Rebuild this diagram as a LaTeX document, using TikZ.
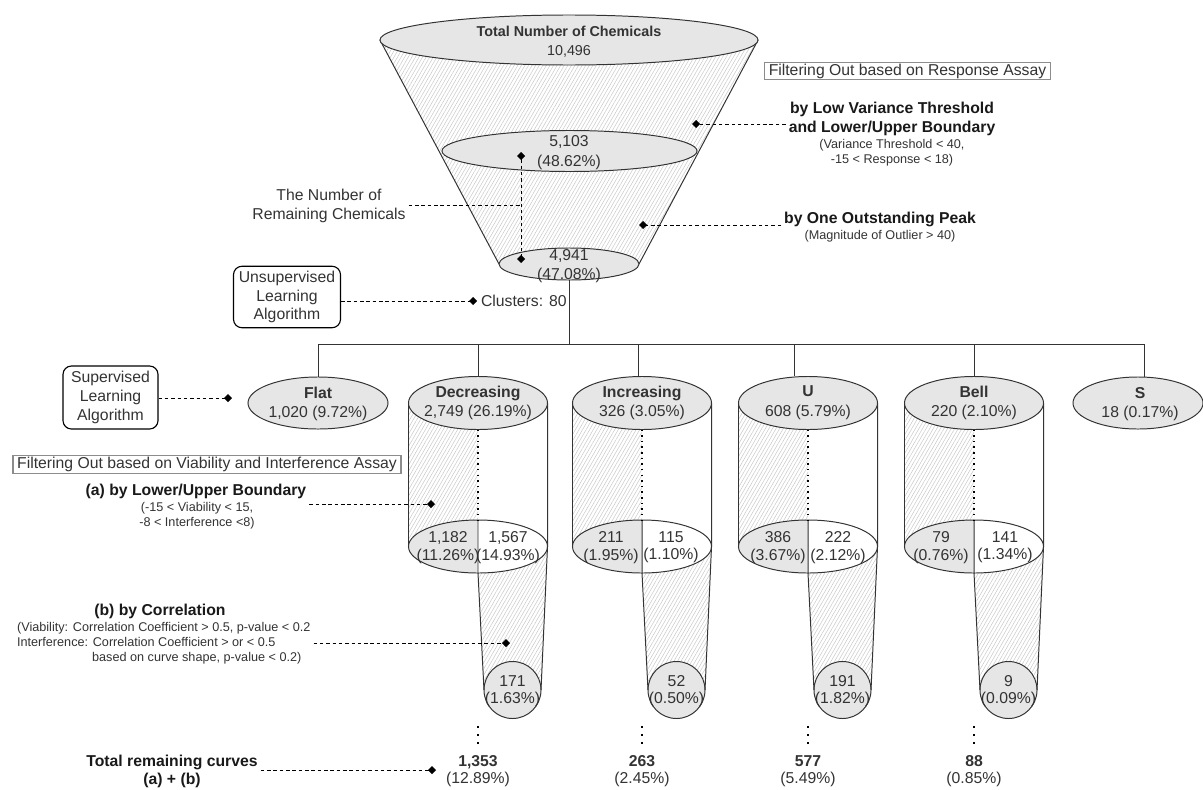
\documentclass[tikz,border=0pt]{standalone}
\usepackage{fontspec}
\setmainfont{Liberation Sans}
\usetikzlibrary{arrows.meta,shapes.geometric,backgrounds,patterns.meta,positioning}
\definecolor{cellgray}{HTML}{E6E6E6}
\definecolor{ink}{HTML}{333333}
\tikzstyle{shapeline}=[draw=ink, line width=0.7pt, inner sep=0pt, outer sep=0pt]
\tikzstyle{grayell}=[shapeline, ellipse, fill=cellgray]
\tikzstyle{cellring}=[shapeline, ellipse, minimum width=3.475cm, minimum height=1.325cm]
\tikzstyle{celltop}=[cellring, fill=cellgray]
\tikzstyle{endcircle}=[shapeline, circle, fill=cellgray, minimum size=1.425cm]
\tikzstyle{numtext}=[align=center, text=ink, inner sep=2pt, font=\fontsize{11.2}{14}\selectfont]
\tikzstyle{tighttext}=[numtext, font=\fontsize{11.2}{12.3}\selectfont]
\tikzstyle{headtext}=[numtext, text=black!90, font=\fontsize{11.2}{14}\selectfont\bfseries]
\tikzstyle{smalltext}=[align=center, text=ink, inner sep=2pt, font=\fontsize{9}{10.7}\selectfont]
\tikzstyle{algobox}=[draw=black, line width=0.8pt, rounded corners=6pt, align=center, text=ink, font=\fontsize{11.2}{13.3}\selectfont]
\tikzstyle{assaybox}=[draw=black!45, line width=0.8pt, inner xsep=3pt, inner ysep=1pt, text=ink, font=\fontsize{11.2}{13}\selectfont]
\tikzstyle{branch}=[draw=ink, line width=0.7pt]
\tikzstyle{dashline}=[draw=black, line width=0.7pt, dash pattern=on 2.5pt off 2pt]
\tikzstyle{annot}=[dashline, -{Diamond[length=2mm,width=2mm]}]
\tikzstyle{celldots}=[draw=black, line width=1.3pt, dash pattern=on 1.1pt off 2.9pt]
\tikzstyle{enddots}=[draw=black, line width=1.4pt, dash pattern=on 1.4pt off 4.3pt]
\tikzstyle{hatch}=[pattern={Lines[angle=60,distance=2.2pt,line width=0.35pt]}, pattern color=black!22]

\begin{document}
\begin{tikzpicture}[x=0.025cm, y=-0.025cm]
    \useasboundingbox (0,0) rectangle (1203,789);

    % funnel
    \node[grayell, minimum width=9.45cm, minimum height=1.25cm] (ftop) at (569,40) {};
    \node[grayell, minimum width=6.375cm, minimum height=1.025cm] (fmid) at (569.5,151) {};
    \node[grayell, minimum width=3.5cm, minimum height=0.8cm] (fbot) at (569,264) {};
    \node[numtext, font=\fontsize{10.2}{13.5}\selectfont] (ftoptext) at (569,42) {\textbf{Total Number of Chemicals}\\10,496};
    \node[numtext] (fmidtext) at (569,152.5) {5,103\\(48.62\%)};
    \node[numtext] (fbottext) at (569,266) {4,941\\(47.08\%)};
    \begin{scope}[on background layer]
        \fill[hatch] (ftop.west) -- (fbot.west) -- (fbot.east) -- (ftop.east) -- cycle;
        \draw[branch] (ftop.west) -- (fbot.west);
        \draw[branch] (ftop.east) -- (fbot.east);
    \end{scope}

    % response assay filters
    \node[assaybox] (respbox) at (907.5,71) {Filtering Out based on Response Assay};
    \node[headtext] (lowvar) at (892,119) {by Low Variance Threshold\\and Lower/Upper Boundary};
    \node[smalltext] (lowvarnote) at (892,152.5) {(Variance Threshold < 40,\\-15 < Response < 18)};
    \node[headtext] (peak) at (880,219) {by One Outstanding Peak};
    \node[smalltext] (peaknote) at (880,236) {(Magnitude of Outlier > 40)};
    \coordinate (dlow) at (692,124);
    \coordinate (dpeak) at (639,225);
    \draw[annot] (lowvar.west |- dlow) -- (dlow);
    \draw[annot] (peak.west |- dpeak) -- (dpeak);

    % remaining chemicals
    \node[numtext] (remain) at (329,206) {The Number of\\Remaining Chemicals};
    \coordinate (dremtop) at (521,152);
    \coordinate (drembot) at (521,263);
    \coordinate (remjoin) at (521,205);
    \draw[annot, {Diamond[length=2mm,width=2mm]}-{Diamond[length=2mm,width=2mm]}] (dremtop) -- (drembot);
    \draw[dashline] (remain.east |- remjoin) -- (remjoin);

    % clustering
    \coordinate (bus) at (569,344);
    \draw[branch] (fbot.south) -- (bus);
    \node[numtext, anchor=west] (clusters) at (478,301) {Clusters: 80};
    \node[algobox, minimum width=2.675cm, minimum height=1.35cm] (unsup) at (287,297) {Unsupervised\\Learning\\Algorithm};
    \coordinate (dclus) at (477,301);
    \draw[annot] (unsup.east |- dclus) -- (dclus);

    % curve classes
    \node[grayell, minimum width=3.5cm, minimum height=1.3cm] (flat) at (318,403) {};
    \node[celltop] (dec) at (478,403) {};
    \node[celltop] (inc) at (642,403) {};
    \node[celltop] (ushape) at (808,403) {};
    \node[celltop] (bell) at (974,403) {};
    \node[grayell, minimum width=3.25cm, minimum height=1.3cm] (sshape) at (1138,403) {};
    \draw[branch] (bus) -| (flat.north);
    \draw[branch] (bus) -| (dec.north);
    \draw[branch] (bus) -| ([xshift=-0.1cm]inc.north);
    \draw[branch] (bus) -| ([xshift=-0.35cm]ushape.north);
    \draw[branch] (bus) -| (bell.north);
    \draw[branch] (bus) -| ([xshift=0.15cm]sshape.north);
    \node[numtext] (flattext) at (318,404) {\textbf{Flat}\\1,020 (9.72\%)};
    \node[numtext] (stext) at (1140,404) {\textbf{S}\\18 (0.17\%)};

    \node[algobox, minimum width=2.375cm, minimum height=1.575cm] (sup) at (110.5,397.5) {Supervised\\Learning\\Algorithm};
    \coordinate (dsup) at (232,398);
    \draw[annot] (sup.east |- dsup) -- (dsup);

    % decreasing
    \node[cellring] (decb) at (478,546.5) {};
    \node[endcircle] (decc) at (512.5,690) {};
    \begin{scope}[on background layer]
        \fill[hatch] (dec.west) rectangle (decb.center);
        \fill[hatch] (decb.center) -- (decc.west) -- (decc.east) -- (decb.east) -- cycle;
        \fill[white] (decb.center) ellipse [x radius=1.7375cm, y radius=0.6625cm];
        \fill[cellgray] (decb.north) arc [start angle=90, end angle=270, x radius=1.7375cm, y radius=0.6625cm] -- cycle;
    \end{scope}
    \draw[branch] (dec.west) -- (decb.west);
    \draw[branch] (dec.east) -- (decb.east) -- (decc.east);
    \draw[branch] (decb.north) -- (decb.south) -- (decc.west);
    \draw[celldots] (dec.south) -- (decb.north);
    \node[numtext] (dectext) at (478,403) {\textbf{Decreasing}\\2,749 (26.19\%)};
    \node[tighttext] (decleft) at (448,547.5) {1,182\\(11.26\%)};
    \node[tighttext] (decright) at (508,547.5) {1,567\\(14.93\%)};
    \node[tighttext] (decctext) at (512.5,691) {171\\(1.63\%)};
    \draw[enddots] (478,726) -- (478,744);
    \node[tighttext] (dectotal) at (478,771) {\textbf{1,353}\\(12.89\%)};

    % increasing
    \node[cellring] (incb) at (642,546.5) {};
    \node[endcircle] (incc) at (676.5,690) {};
    \begin{scope}[on background layer]
        \fill[hatch] (inc.west) rectangle (incb.center);
        \fill[hatch] (incb.center) -- (incc.west) -- (incc.east) -- (incb.east) -- cycle;
        \fill[white] (incb.center) ellipse [x radius=1.7375cm, y radius=0.6625cm];
        \fill[cellgray] (incb.north) arc [start angle=90, end angle=270, x radius=1.7375cm, y radius=0.6625cm] -- cycle;
    \end{scope}
    \draw[branch] (inc.west) -- (incb.west);
    \draw[branch] (inc.east) -- (incb.east) -- (incc.east);
    \draw[branch] (incb.north) -- (incb.south) -- (incc.west);
    \draw[celldots] (inc.south) -- (incb.north);
    \node[numtext] (inctext) at (642,403) {\textbf{Increasing}\\326 (3.05\%)};
    \node[tighttext] (incleft) at (611,547.5) {211\\(1.95\%)};
    \node[tighttext] (incright) at (671,547.5) {115\\(1.10\%)};
    \node[tighttext] (incctext) at (676.5,691) {52\\(0.50\%)};
    \draw[enddots] (642,726) -- (642,744);
    \node[tighttext] (inctotal) at (642,771) {\textbf{263}\\(2.45\%)};

    % u-shaped
    \node[cellring] (ushapeb) at (808,546.5) {};
    \node[endcircle] (ushapec) at (842.5,690) {};
    \begin{scope}[on background layer]
        \fill[hatch] (ushape.west) rectangle (ushapeb.center);
        \fill[hatch] (ushapeb.center) -- (ushapec.west) -- (ushapec.east) -- (ushapeb.east) -- cycle;
        \fill[white] (ushapeb.center) ellipse [x radius=1.7375cm, y radius=0.6625cm];
        \fill[cellgray] (ushapeb.north) arc [start angle=90, end angle=270, x radius=1.7375cm, y radius=0.6625cm] -- cycle;
    \end{scope}
    \draw[branch] (ushape.west) -- (ushapeb.west);
    \draw[branch] (ushape.east) -- (ushapeb.east) -- (ushapec.east);
    \draw[branch] (ushapeb.north) -- (ushapeb.south) -- (ushapec.west);
    \draw[celldots] (ushape.south) -- (ushapeb.north);
    \node[numtext] (ushapetext) at (808,403) {\textbf{U}\\608 (5.79\%)};
    \node[tighttext] (ushapeleft) at (778,547.5) {386\\(3.67\%)};
    \node[tighttext] (ushaperight) at (838,547.5) {222\\(2.12\%)};
    \node[tighttext] (ushapectext) at (842.5,691) {191\\(1.82\%)};
    \draw[enddots] (808,726) -- (808,744);
    \node[tighttext] (ushapetotal) at (808,771) {\textbf{577}\\(5.49\%)};

    % bell
    \node[cellring] (bellb) at (974,546.5) {};
    \node[endcircle] (bellc) at (1008.5,690) {};
    \begin{scope}[on background layer]
        \fill[hatch] (bell.west) rectangle (bellb.center);
        \fill[hatch] (bellb.center) -- (bellc.west) -- (bellc.east) -- (bellb.east) -- cycle;
        \fill[white] (bellb.center) ellipse [x radius=1.7375cm, y radius=0.6625cm];
        \fill[cellgray] (bellb.north) arc [start angle=90, end angle=270, x radius=1.7375cm, y radius=0.6625cm] -- cycle;
    \end{scope}
    \draw[branch] (bell.west) -- (bellb.west);
    \draw[branch] (bell.east) -- (bellb.east) -- (bellc.east);
    \draw[branch] (bellb.north) -- (bellb.south) -- (bellc.west);
    \draw[celldots] (bell.south) -- (bellb.north);
    \node[numtext] (belltext) at (974,403) {\textbf{Bell}\\220 (2.10\%)};
    \node[tighttext] (bellleft) at (941,547.5) {79\\(0.76\%)};
    \node[tighttext] (bellright) at (1005,547.5) {141\\(1.34\%)};
    \node[tighttext] (bellctext) at (1008.5,691) {9\\(0.09\%)};
    \draw[enddots] (974,726) -- (974,744);
    \node[tighttext] (belltotal) at (974,771) {\textbf{88}\\(0.85\%)};

    % viability and interference filters
    \node[assaybox] (viabbox) at (207,464.5) {Filtering Out based on Viability and Interference Assay};
    \node[headtext] (alab) at (196,491) {(a) by Lower/Upper Boundary};
    \node[smalltext] (anote) at (197,515.5) {(-15 < Viability < 15,\\-8 < Interference <8)};
    \coordinate (da) at (435,504);
    \draw[annot] (alab.east |- da) -- (da);
    \node[headtext] (blab) at (160,611) {(b) by Correlation};
    \node[smalltext, align=left, anchor=west] (bnote) at (14,643) {(Viability: Correlation Coefficient > 0.5, p-value < 0.2\\Interference: Correlation Coefficient > or < 0.5\\\hspace*{1.875cm}based on curve shape, p-value < 0.2)};
    \coordinate (db) at (510,643);
    \draw[annot] (bnote.east |- db) -- (db);
    \node[headtext, font=\fontsize{11.2}{12.8}\selectfont\bfseries] (totlab) at (172,771) {Total remaining curves\\(a) + (b)};
    \coordinate (dtot) at (436,770);
    \draw[annot] (totlab.east |- dtot) -- (dtot);

\end{tikzpicture}
\end{document}
